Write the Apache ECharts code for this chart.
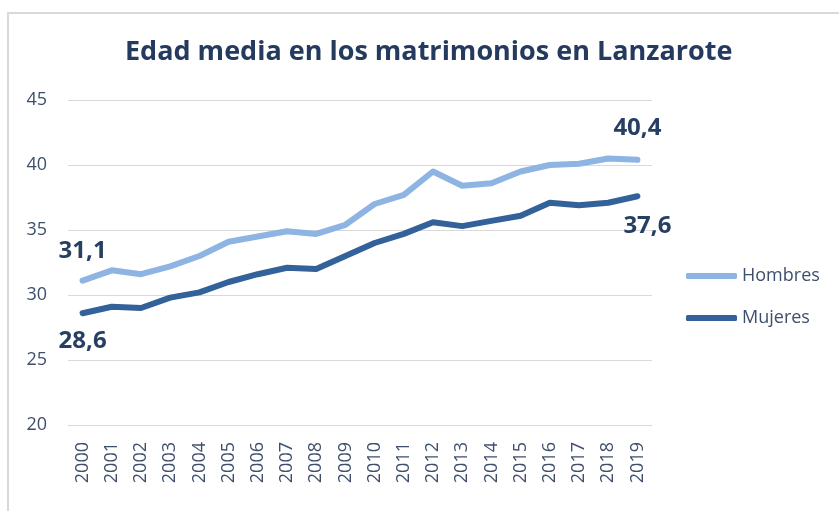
<!DOCTYPE html>
<html>
<head>
<meta charset="utf-8">
<script src="https://cdn.jsdelivr.net/npm/echarts@6/dist/echarts.min.js"></script>
<style>
html,body{margin:0;padding:0;background:#fff;}
#chart{width:839px;height:511px;}
</style>
</head>
<body>
<div id="chart"></div>
<script>
var years = ['2000','2001','2002','2003','2004','2005','2006','2007','2008','2009','2010','2011','2012','2013','2014','2015','2016','2017','2018','2019'];
var hombres = [31.1, 31.9, 31.6, 32.2, 33.0, 34.1, 34.5, 34.9, 34.7, 35.4, 37.0, 37.7, 39.5, 38.4, 38.6, 39.5, 40.0, 40.1, 40.5, 40.4];
var mujeres = [28.6, 29.1, 29.0, 29.8, 30.2, 31.0, 31.6, 32.1, 32.0, 33.0, 34.0, 34.7, 35.6, 35.3, 35.7, 36.1, 37.1, 36.9, 37.1, 37.6];
var yTicks = [20, 25, 30, 35, 40, 45];

var FONT = 'Open Sans';
var textColor = '#3e4f6c';
var labelColor = '#263f63';

function endLabels(arr, posFirst, posLast, offFirst, offLast) {
  return arr.map(function (v, i) {
    if (i === 0 || i === arr.length - 1) {
      var first = i === 0;
      return {
        value: v,
        label: {
          show: true,
          position: first ? posFirst : posLast,
          offset: first ? offFirst : offLast,
          formatter: function (p) { return String(p.value).replace('.', ','); },
          fontFamily: FONT,
          fontWeight: 'bold',
          fontSize: 24,
          color: labelColor,
          distance: 10
        }
      };
    }
    return v;
  });
}

var chart = echarts.init(document.getElementById('chart'), null, {renderer: 'canvas'});
chart.setOption({
  backgroundColor: '#ffffff',
  animation: false,
  title: {
    text: 'Edad media en los matrimonios en Lanzarote',
    left: 120,
    top: 34,
    textStyle: {fontFamily: FONT, fontWeight: 'bold', fontSize: 27, color: '#243a5e'}
  },
  graphic: [{
    type: 'rect',
    shape: {x: 8, y: 13, width: 840, height: 510},
    style: {fill: 'none', stroke: '#d9d9d9', lineWidth: 2},
    silent: true
  }],
  legend: {
    orient: 'vertical',
    left: 681,
    top: 262,
    itemWidth: 51,
    itemHeight: 6,
    itemGap: 24,
    icon: 'roundRect',
    textStyle: {fontFamily: FONT, fontSize: 18, color: textColor},
    data: ['Hombres', 'Mujeres']
  },
  grid: {left: 68, right: 187, top: 100, bottom: 86, containLabel: false},
  xAxis: {
    type: 'category',
    data: years,
    boundaryGap: true,
    axisLine: {show: true, lineStyle: {color: '#d9d9d9', width: 1}},
    axisTick: {show: false},
    axisLabel: {rotate: 90, fontFamily: FONT, fontSize: 18, color: textColor, margin: 17, interval: 0}
  },
  yAxis: {
    type: 'value',
    min: yTicks[0],
    max: yTicks[yTicks.length - 1],
    interval: 5,
    axisLine: {show: false},
    axisTick: {show: false},
    splitLine: {lineStyle: {color: '#d9d9d9', width: 1}},
    axisLabel: {fontFamily: FONT, fontSize: 18, color: textColor, margin: 21}
  },
  series: [{
    name: 'Hombres',
    type: 'line',
    data: endLabels(hombres, 'top', 'top', [0, -8], [0, -10]),
    symbol: 'circle',
    symbolSize: 0,
    showSymbol: true,
    lineStyle: {width: 6, color: '#8db4e2', cap: 'round', join: 'round'},
    itemStyle: {color: '#8db4e2'},
    z: 2
  }, {
    name: 'Mujeres',
    type: 'line',
    data: endLabels(mujeres, 'bottom', 'bottom', [0, 6], [10, 8]),
    symbol: 'circle',
    symbolSize: 0,
    showSymbol: true,
    lineStyle: {width: 6, color: '#33619a', cap: 'round', join: 'round'},
    itemStyle: {color: '#33619a'},
    z: 3
  }]
});
</script>
</body>
</html>
